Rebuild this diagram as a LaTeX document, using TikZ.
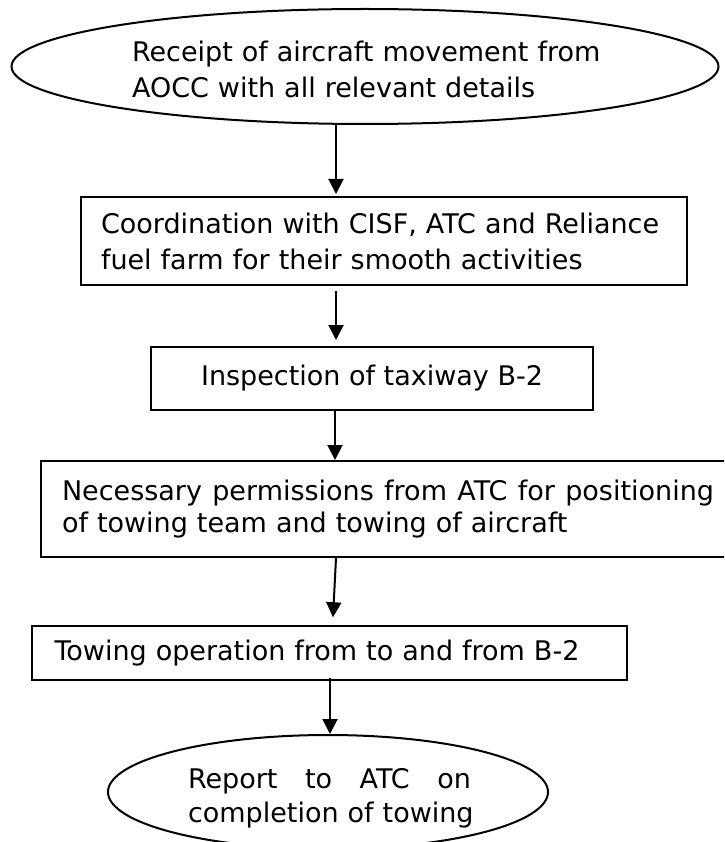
\documentclass[tikz,border=0pt]{standalone}
\usepackage{fontspec}
\setmainfont{DejaVu Sans}
\usepackage{xcolor}
\usetikzlibrary{arrows.meta,shapes.geometric}
\definecolor{ink}{HTML}{000000}
\definecolor{paper}{HTML}{FFFFFF}
\tikzset{
  txt/.style={font=\fontsize{27}{#1}\selectfont, text=ink},
  txt/.default=34,
  boxR/.style={rectangle, draw=ink, line width=2pt, inner sep=0pt, align=left, txt},
  ovalE/.style={ellipse, draw=ink, line width=2pt, inner sep=0pt},
  lab/.style={inner sep=0pt, align=left, txt},
  arr/.style={-{Triangle[length=15pt,width=15pt]}, line width=2pt, draw=ink}
}

\begin{document}
\begin{tikzpicture}[x=1pt,y=-1pt]
  \useasboundingbox[fill=paper] (0,0) rectangle (724,842);
  \clip (0,0) rectangle (724,842);

  % start oval
  \node[ovalE, minimum width=707, minimum height=115] (recv) at (365,66.5) {};
  \node[lab, txt=36, text width=500] (recvT) at (382,69.8)
    {Receipt of aircraft movement from\\AOCC with all relevant details};

  % boxes
  \node[boxR, txt=36, minimum width=606, minimum height=88, text width=566] (coord) at (384,241)
    {Coordination with CISF, ATC and Reliance\\fuel farm for their smooth activities};
  \node[boxR, minimum width=442, minimum height=63, align=center] (insp) at (372,378.5)
    {Inspection of taxiway B-2};
  \node[boxR, txt=32, minimum width=694, minimum height=96, text width=652] (perm) at (388,509)
    {\hbox to 652pt{Necessary\hfill permissions\hfill from\hfill ATC\hfill for\hfill positioning}\\of towing team and towing of aircraft};
  \node[boxR, minimum width=595, minimum height=54.5, text width=550] (tow) at (329.5,653)
    {Towing operation from to and from B-2};

  % end oval
  \node[ovalE, minimum width=440, minimum height=114] (rep) at (328,792) {};
  \node[lab, text width=320] (repT) at (348,798.4)
    {\hbox to 283pt{Report\hfill to\hfill ATC\hfill on}\\completion of towing};

  % connectors
  \draw[arr] ([xshift=-29pt]recv.south) -- ([xshift=-48pt,yshift=2pt]coord.north);
  \draw[arr] ([xshift=-48pt,yshift=-5pt]coord.south) -- ([xshift=-36pt,yshift=6pt]insp.north);
  \draw[arr] ([xshift=-37pt]insp.south) -- ([xshift=-53pt]perm.north);
  \draw[arr] ([xshift=-52pt]perm.south) -- ([xshift=3.5pt,yshift=7.5pt]tow.north);
  \draw[arr] ([xshift=0.5pt,yshift=3pt]tow.south) -- ([xshift=2pt]rep.north);
\end{tikzpicture}
\end{document}
